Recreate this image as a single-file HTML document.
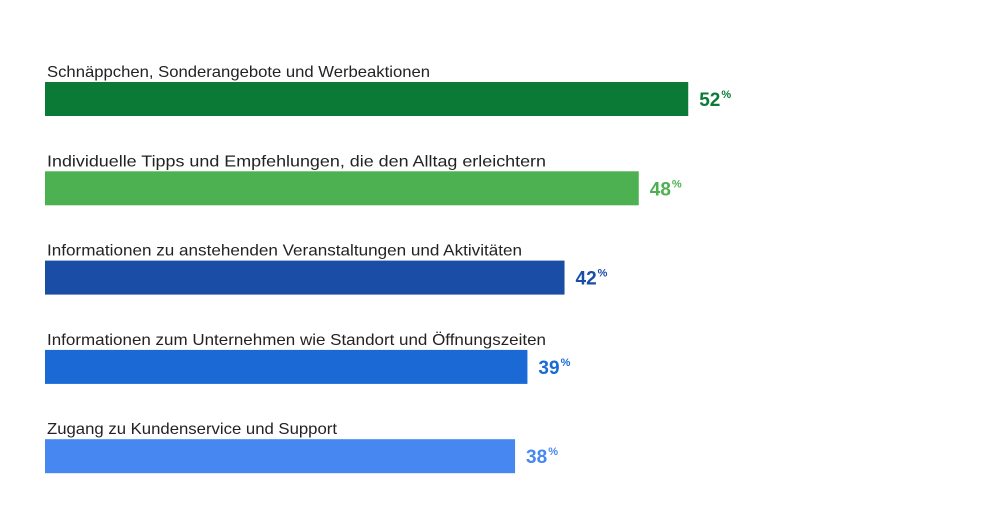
<!DOCTYPE html>
<html><head><meta charset="utf-8"><style>
body{margin:0;background:#fff;}
svg{display:block;font-family:"Liberation Sans",Arial,sans-serif;}
</style></head><body>
<svg id="chart" width="1000" height="526" viewBox="0 0 1000 526"></svg>
<script>
const categories=["Schnäppchen, Sonderangebote und Werbeaktionen","Individuelle Tipps und Empfehlungen, die den Alltag erleichtern","Informationen zu anstehenden Veranstaltungen und Aktivitäten","Informationen zum Unternehmen wie Standort und Öffnungszeiten","Zugang zu Kundenservice und Support"];
const values=[52,48,42,39,38];
const colors=["#0b7a37","#4db151","#1a4ea6","#1a69d5","#4687f1"];
const labelWidths=[383,499,475,499,290];
const svg=document.getElementById('chart');
const NS="http://www.w3.org/2000/svg";
const x0=45, pxPer=12.37;
function xScale(v){return x0+v*pxPer;}
function yBar(i){return 82+i*89.3;}
categories.forEach((c,i)=>{
  const y=yBar(i);
  const t=document.createElementNS(NS,'text');
  
  
  t.setAttribute('x',47);t.setAttribute('y',y-5);
  t.setAttribute('font-size','16');t.setAttribute('fill','#222');
  t.setAttribute('textLength',labelWidths[i]);t.setAttribute('lengthAdjust','spacingAndGlyphs');
  t.textContent=c;svg.appendChild(t);
  const r=document.createElementNS(NS,'rect');
  
  
  r.setAttribute('x',x0);r.setAttribute('y',y);
  r.setAttribute('width',xScale(values[i])-x0);r.setAttribute('height',34);
  r.setAttribute('fill',colors[i]);svg.appendChild(r);
  const v=document.createElementNS(NS,'text');
  
  
  v.setAttribute('x',xScale(values[i])+11);v.setAttribute('y',y+24);
  v.setAttribute('font-size','19');v.setAttribute('font-weight','bold');v.setAttribute('fill',colors[i]);
  v.textContent=values[i];
  const s=document.createElementNS(NS,'tspan');
  s.setAttribute('font-size','11');s.setAttribute('dy','-8');s.setAttribute('dx','1');
  s.textContent='%';v.appendChild(s);
  svg.appendChild(v);
});
</script>
</body></html>
